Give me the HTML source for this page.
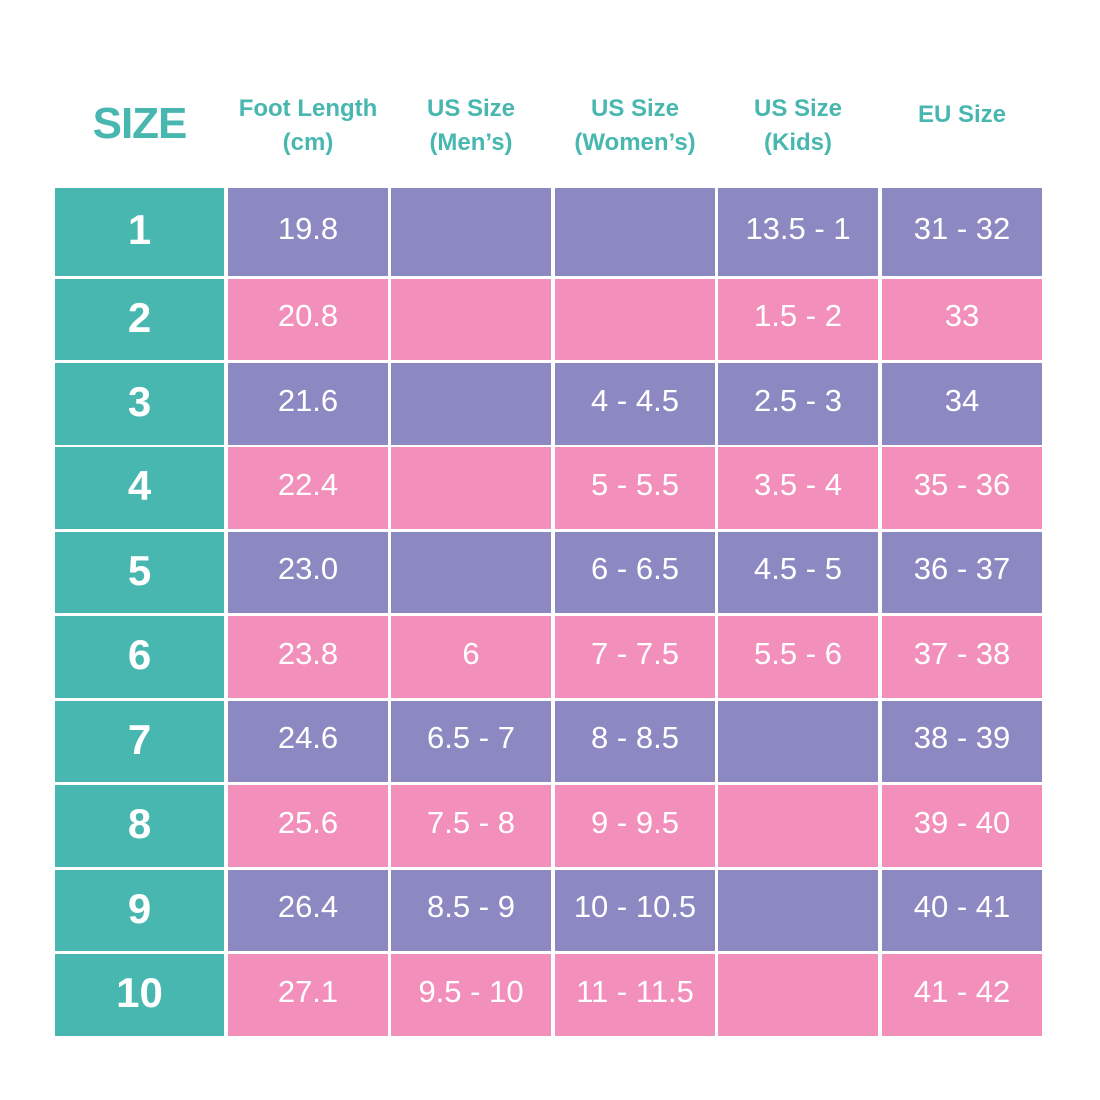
<!DOCTYPE html><html><head><style>
body{margin:0;width:1100px;height:1100px;background:#fff;position:relative;font-family:"Liberation Sans",sans-serif;overflow:hidden}
.c{position:absolute;display:flex;align-items:center;justify-content:center;color:#fff;font-size:31px;box-sizing:border-box;padding-bottom:7px}
.t{background:#48b7b0;font-weight:900;font-size:42px;padding-bottom:4px}
.p{background:#8c89c2}.k{background:#f290bb}
.h{position:absolute;color:#48b7b0;font-weight:bold;font-size:24px;text-align:center;line-height:34px}
</style></head><body>
<div class="h" style="left:55px;top:96px;width:169px;font-size:44px;letter-spacing:-1px;line-height:56px;font-weight:900">SIZE</div>
<div class="h" style="left:228px;top:92px;width:160px">Foot Length<br>(cm)</div>
<div class="h" style="left:391px;top:92px;width:160px">US Size<br>(Men’s)</div>
<div class="h" style="left:555px;top:92px;width:160px">US Size<br>(Women’s)</div>
<div class="h" style="left:718px;top:92px;width:160px">US Size<br>(Kids)</div>
<div class="h" style="left:882px;top:98px;width:160px">EU Size</div>
<div id="g"></div>
<script>
var d=[["1","19.8","","","13.5 - 1","31 - 32"],["2","20.8","","","1.5 - 2","33"],["3","21.6","","4 - 4.5","2.5 - 3","34"],["4","22.4","","5 - 5.5","3.5 - 4","35 - 36"],["5","23.0","","6 - 6.5","4.5 - 5","36 - 37"],["6","23.8","6","7 - 7.5","5.5 - 6","37 - 38"],["7","24.6","6.5 - 7","8 - 8.5","","38 - 39"],["8","25.6","7.5 - 8","9 - 9.5","","39 - 40"],["9","26.4","8.5 - 9","10 - 10.5","","40 - 41"],["10","27.1","9.5 - 10","11 - 11.5","","41 - 42"]];
var xs=[[55,169],[228,160],[391,160],[555,160],[718,160],[882,160]];
var tops=[188,279,363,447,532,616,701,785,870,954],bots=[276,360,445,529,613,698,782,867,951,1036];
var h="";
d.forEach(function(r,i){r.forEach(function(v,j){var cl=j==0?"t":(i%2?"k":"p");
h+='<div class="c '+cl+'" style="left:'+xs[j][0]+'px;width:'+xs[j][1]+'px;top:'+tops[i]+'px;height:'+(bots[i]-tops[i])+'px">'+v+'</div>';});});
document.getElementById("g").innerHTML=h;
</script>
</body></html>
